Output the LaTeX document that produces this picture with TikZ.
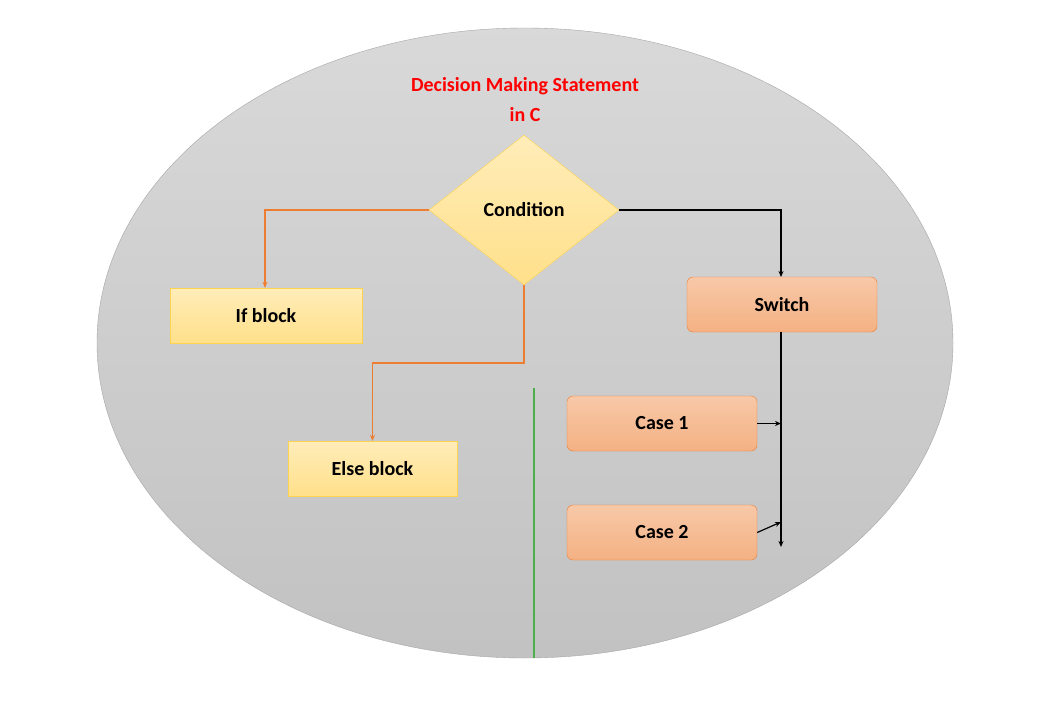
\documentclass[tikz,border=0pt]{standalone}
\usepackage{fontspec}
\setmainfont{Carlito}
\usetikzlibrary{shapes.geometric,arrows.meta}
\definecolor{ybox}{HTML}{FFE08A}
\definecolor{yedge}{HTML}{FFD34D}
\definecolor{sbox}{HTML}{F4B183}
\definecolor{sedge}{HTML}{ED7D31}
\begin{document}
\begin{tikzpicture}[x=1pt,y=-1pt,
  ybl/.style={draw=yedge,top color=ybox!60!white,bottom color=ybox,minimum width=192pt,minimum height=55pt,font=\bfseries\fontsize{20}{24}\selectfont,inner sep=0pt},
  sbl/.style={draw=sedge,rounded corners=6pt,top color=sbox!70!white,bottom color=sbox,minimum width=190pt,minimum height=55pt,font=\bfseries\fontsize{20}{24}\selectfont,inner sep=0pt},
  oarr/.style={draw=sedge,line width=1.2pt,-{Stealth[length=6pt,width=5pt]}},
  barr/.style={draw=black,line width=1.2pt,-{Stealth[length=6pt,width=5pt]}}]
\useasboundingbox (0,0) rectangle (1038,706);
\fill[white] (0,0) rectangle (1038,706);
\node[ellipse,draw=gray!70,top color=gray!30,bottom color=gray!48,minimum width=856pt,minimum height=630pt] (ell) at (525,343) {};
\node[align=center,text=red,font=\bfseries\fontsize{20}{30}\selectfont] (title) at (525,100) {Decision Making Statement\\in C};
\node[diamond,draw=yedge,top color=ybox!60!white,bottom color=ybox,minimum width=190pt,minimum height=150pt,inner sep=0pt,aspect=1.27,font=\bfseries\fontsize{20}{24}\selectfont] (cond) at (524,210) {Condition};
\node[ybl] (if) at (266,315.5) {If block};
\node[ybl,minimum width=169pt] (else) at (372.5,468.5) {Else block};
\node[sbl] (sw) at (782,304.5) {Switch};
\node[sbl] (c1) at (662,423.5) {Case 1};
\node[sbl] (c2) at (662,532.5) {Case 2};
\coordinate (end) at (781,547);
\coordinate (g1) at (534,388);
\coordinate (g2) at (534,658);
\draw[oarr] (cond.west) -| (if.north -| 265,0);
\draw[oarr] (cond.south) -- (524,363) -| (else.north);
\draw[barr] (cond.east) -| (781,277);
\draw[barr] (781,332) -- (end);
\draw[barr] (c1.east) -- (781,423.5);
\draw[barr] (c2.east) -- (781,522);
\draw[green!55!black!70,line width=1.2pt] (g1) -- (g2);
\end{tikzpicture}
\end{document}
